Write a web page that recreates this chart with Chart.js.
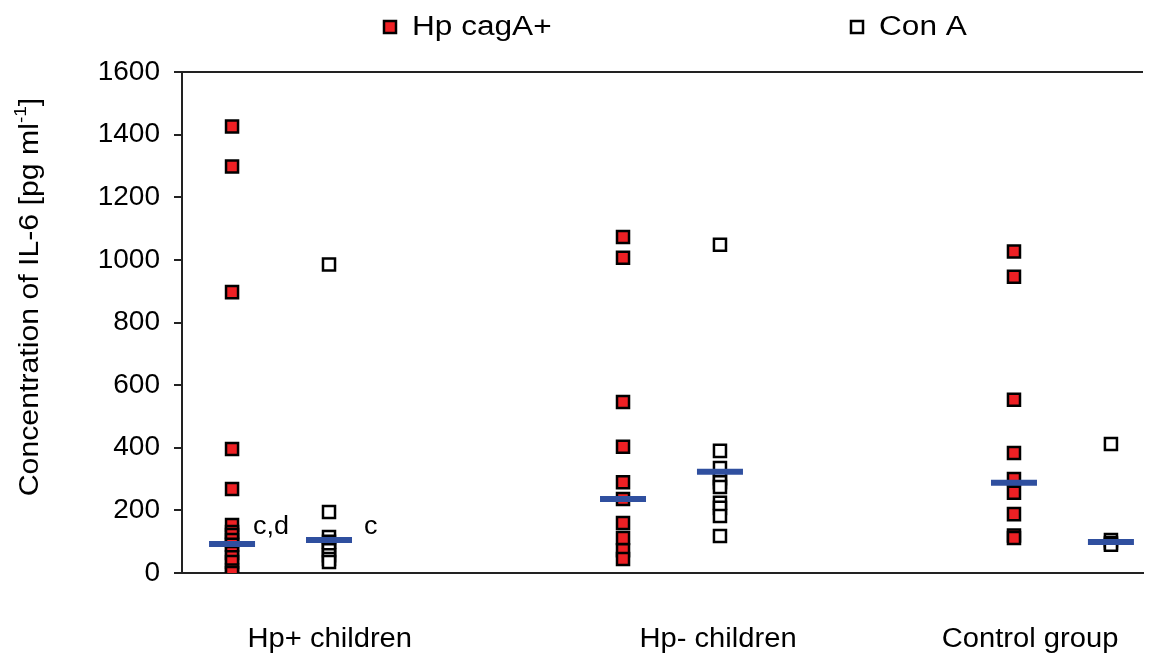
<!DOCTYPE html>
<html>
<head>
<meta charset="utf-8">
<script src="https://cdn.jsdelivr.net/npm/chart.js@4.4.1/dist/chart.umd.min.js"></script>
<style>
  html, body { margin: 0; padding: 0; background: #fff; overflow: hidden; width: 1153px; height: 659px; }
  canvas { display: block; }
</style>
</head>
<body>
<!-- a little wider than the window: Chart.js keeps some room on the right that the original doesn't have -->
<canvas id="il6Chart" width="1172" height="659"></canvas>
<script>
// Groups along the x axis
var groups = ['Hp+ children', 'Hp- children', 'Control group'];
// where the group names sit (in group units)
var groupLabelPos = [0.126, 1.119, 1.917];

// IL-6 values, one array per group
var cagAHpPos = [1426, 1298, 897, 396, 268, 153, 131, 121, 105, 90, 64, 50, 35, 8, 0];
var cagAHpNeg = [1073, 1007, 546, 403, 290, 236, 160, 112, 73, 45];
var cagACtrl  = [1027, 946, 553, 383, 300, 256, 188, 120, 112];

var conAHpPos = [985, 195, 115, 100, 90, 73, 57, 45, 35];
var conAHpNeg = [1048, 390, 335, 303, 290, 275, 224, 208, 182, 118];
var conACtrl  = [412, 105, 96, 90];

// medians (blue bars)
var cagAMedians = [93, 236, 288];
var conAMedians = [105, 323, 99];

// y axis ticks
var yTicks = [0, 200, 400, 600, 800, 1000, 1200, 1400, 1600];

// letters next to the Hp+ medians
var notes = [
  { group: 0, series: 'cagA', text: 'c,d', y: 145, dx: 21 },
  { group: 0, series: 'conA', text: 'c',   y: 145, dx: 35 }
];

var offset = { cagA: -0.124, conA: 0.124 };

function toPoints(values, g, series) {
  return values.map(function (v) { return { x: g + offset[series], y: v }; });
}

var cagAPoints = [].concat(toPoints(cagAHpPos, 0, 'cagA'), toPoints(cagAHpNeg, 1, 'cagA'), toPoints(cagACtrl, 2, 'cagA'));
var conAPoints = [].concat(toPoints(conAHpPos, 0, 'conA'), toPoints(conAHpNeg, 1, 'conA'), toPoints(conACtrl, 2, 'conA'));
var medianPoints = [];
cagAMedians.forEach(function (v, g) { medianPoints.push({ x: g + offset.cagA, y: v }); });
conAMedians.forEach(function (v, g) { medianPoints.push({ x: g + offset.conA, y: v }); });

var FONT = '"Liberation Sans", Arial, sans-serif';
var RED = '#ee2024';
var BLUE = '#2f4f9f';

// text drawn a bit wider than the font, like the original
function wideText(ctx, text, x, y, sx) {
  ctx.save();
  ctx.translate(x, y);
  ctx.scale(sx, 1);
  ctx.fillText(text, 0, 0);
  ctx.restore();
}

// draws legend, group names, y title, top border line and the letters
var extrasPlugin = {
  id: 'extras',
  afterDraw: function (chart) {
    var ctx = chart.ctx;
    var area = chart.chartArea;
    var xs = chart.scales.x, ys = chart.scales.y;
    ctx.save();

    // top border
    ctx.strokeStyle = '#222';
    ctx.lineWidth = 2;
    ctx.beginPath();
    ctx.moveTo(area.left, area.top);
    ctx.lineTo(area.right, area.top);
    ctx.stroke();

    // legend
    var legendItems = [
      { text: 'Hp cagA+', fill: RED, x: 390 },
      { text: 'Con A', fill: '#ffffff', x: 857 }
    ];
    ctx.font = '27px ' + FONT;
    ctx.textBaseline = 'middle';
    ctx.textAlign = 'left';
    legendItems.forEach(function (it) {
      ctx.fillStyle = it.fill;
      ctx.fillRect(it.x - 6, 21, 12, 12);
      ctx.strokeStyle = '#000';
      ctx.lineWidth = 2.5;
      ctx.strokeRect(it.x - 6, 21, 12, 12);
      ctx.fillStyle = '#000';
      wideText(ctx, it.text, it.x + 22, 28, 1.17);
    });

    // group names under the x axis
    ctx.font = '27px ' + FONT;
    ctx.textAlign = 'center';
    groups.forEach(function (g, i) {
      wideText(ctx, g, xs.getPixelForValue(groupLabelPos[i]), 640, 1.08);
    });
    ctx.textAlign = 'left';

    // letters
    ctx.font = '25px ' + FONT;
    notes.forEach(function (n) {
      var px = xs.getPixelForValue(n.group + offset[n.series]);
      var py = ys.getPixelForValue(n.y);
      wideText(ctx, n.text, px + n.dx, py, 1.08);
    });

    // y axis title with superscript
    var sx = 1.12;
    ctx.translate(31, 297);
    ctx.rotate(-Math.PI / 2);
    ctx.scale(sx, 1);
    var main = 'Concentration of IL-6 [pg ml';
    var sup = '-1';
    var end = ']';
    ctx.font = '27px ' + FONT;
    var w1 = ctx.measureText(main).width;
    var w3 = ctx.measureText(end).width;
    ctx.font = '17px ' + FONT;
    var w2 = ctx.measureText(sup).width;
    var startX = -(w1 + w2 + w3) / 2;
    ctx.fillStyle = '#000';
    ctx.font = '27px ' + FONT;
    ctx.fillText(main, startX, 0);
    ctx.font = '17px ' + FONT;
    ctx.fillText(sup, startX + w1, -10);
    ctx.font = '27px ' + FONT;
    ctx.fillText(end, startX + w1 + w2, 0);

    ctx.restore();
  }
};

var ctx = document.getElementById('il6Chart').getContext('2d');
var il6Chart = new Chart(ctx, {
  type: 'scatter',
  data: {
    datasets: [
      {
        label: 'Median',
        data: medianPoints,
        pointStyle: 'line',
        pointRadius: 23,
        pointHoverRadius: 23,
        borderColor: BLUE,
        backgroundColor: BLUE,
        borderWidth: 6,
        pointBorderWidth: 6,
        order: 0
      },
      {
        label: 'Hp cagA+',
        data: cagAPoints,
        pointStyle: 'rect',
        pointRadius: 8.5,
        pointHoverRadius: 8.5,
        backgroundColor: RED,
        borderColor: '#000',
        borderWidth: 2.5,
        order: 1
      },
      {
        label: 'Con A',
        data: conAPoints,
        pointStyle: 'rect',
        pointRadius: 8.5,
        pointHoverRadius: 8.5,
        backgroundColor: '#fff',
        borderColor: '#000',
        borderWidth: 2.5,
        order: 1
      }
    ]
  },
  options: {
    responsive: false,
    animation: false,
    layout: { padding: { left: 10, top: 72, right: 10, bottom: 0 } },
    plugins: {
      legend: { display: false },
      tooltip: { enabled: false }
    },
    scales: {
      x: {
        type: 'linear',
        min: -0.252,
        max: 2.206,
        afterFit: function (scale) {
          scale.height = 86;
          scale.paddingLeft = 0;
          scale.paddingRight = 0;
        },
        grid: { display: false, drawTicks: false },
        border: { display: true, color: '#222', width: 2 },
        ticks: { display: false }
      },
      y: {
        min: 0,
        max: 1600,
        afterBuildTicks: function (scale) {
          scale.ticks = yTicks.map(function (v) { return { value: v }; });
        },
        afterFit: function (scale) { scale.width = 172; },
        grid: { drawOnChartArea: false, drawTicks: true, tickLength: 8, color: '#222', lineWidth: 2 },
        border: { display: true, color: '#222', width: 2 },
        ticks: {
          padding: 14,
          color: '#000',
          font: { family: FONT, size: 28 },
          callback: function (value) { return String(value); }
        }
      }
    }
  },
  plugins: [extrasPlugin]
});
</script>
</body>
</html>
